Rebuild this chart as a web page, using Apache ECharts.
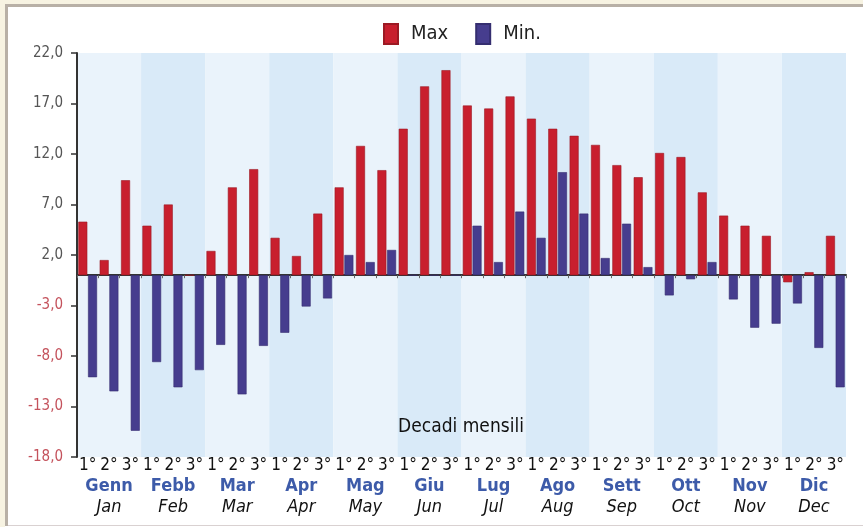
<!DOCTYPE html>
<html>
<head>
<meta charset="utf-8">
<script src="https://cdn.jsdelivr.net/npm/echarts@6/dist/echarts.min.js"></script>
<style>
  html, body { margin: 0; padding: 0; background: #ffffff; }
  body { width: 863px; height: 527px; position: relative; overflow: hidden; }
  .cream { position: absolute; background: #f7f3e2; }
  #creamLeft { left: 0; top: 0; width: 5px; height: 527px; }
  #creamTop { left: 0; top: 0; width: 863px; height: 4px; }
  #frameLeft { position: absolute; left: 5px; top: 4px; width: 3px; height: 522px; background: #b8b0a6; }
  #frameTop { position: absolute; left: 5px; top: 4px; width: 858px; height: 3px; background: #b8b0a6; }
  #frameBottom { position: absolute; left: 8px; top: 525px; width: 855px; height: 1px; background: #d9d1d1; }
  #chart { position: absolute; left: 0; top: 0; width: 863px; height: 527px; }
</style>
</head>
<body>
<div class="cream" id="creamLeft"></div>
<div class="cream" id="creamTop"></div>
<div id="frameLeft"></div>
<div id="frameTop"></div>
<div id="frameBottom"></div>
<div id="chart"></div>
<script>
// ======================
// DATI
// ======================
const monthsIt = ["Genn", "Febb", "Mar", "Apr", "Mag", "Giu", "Lug", "Ago", "Sett", "Ott", "Nov", "Dic"];
const monthsEn = ["Jan", "Feb", "Mar", "Apr", "May", "Jun", "Jul", "Aug", "Sep", "Oct", "Nov", "Dec"];
const decadeLabels = ["1°", "2°", "3°"];

// temperature massime per decade (°C)
const maxVals = [
    5.3, 1.5, 9.4,
    4.9, 7.0, 0.0,
    2.4, 8.7, 10.5,
    3.7, 1.9, 6.1,
    8.7, 12.8, 10.4,
    14.5, 18.7, 20.3,
    16.8, 16.5, 17.7,
    15.5, 14.5, 13.8,
    12.9, 10.9, 9.7,
    12.1, 11.7, 8.2,
    5.9, 4.9, 3.9,
    -0.7, 0.3, 3.9
];

// temperature minime per decade (°C)
const minVals = [
    -10.1, -11.5, -15.4,
    -8.6, -11.1, -9.4,
    -6.9, -11.8, -7.0,
    -5.7, -3.1, -2.3,
    2.0, 1.3, 2.5,
    0.0, 0.0, 0.0,
    4.9, 1.3, 6.3,
    3.7, 10.2, 6.1,
    1.7, 5.1, 0.8,
    -2.0, -0.4, 1.3,
    -2.4, -5.2, -4.8,
    -2.8, -7.2, -11.1
];

// ======================
// COLORI
// ======================
const COLORS = {
    red: "#c81f2e",
    blue: "#463d8e",
    monthIt: "#3d5ba9",
    bandA: "#eaf3fb",
    bandB: "#d9eaf8",
    axis: "#333333"
};

const FONT = "'Liberation Sans Narrow', 'DejaVu Sans Condensed', 'Roboto', sans-serif";

const decades = [];
monthsEn.forEach(m => decadeLabels.forEach(d => decades.push(d)));
const decadeKeys = decades.map((d, i) => i);

const chart = echarts.init(document.getElementById("chart"));
chart.setOption({
    backgroundColor: "transparent",
    textStyle: { fontFamily: FONT },
    animation: false,
    legend: {
        top: 18,
        left: 378,
        icon: "rect",
        itemWidth: 14,
        itemHeight: 20,
        itemGap: 27,
        textStyle: { fontSize: 20, color: "#222", fontFamily: FONT, padding: [0, 0, 0, 8] },
        data: ["Max", "Min."]
    },
    grid: { left: 77, right: 17, top: 53, bottom: 70 },
    graphic: [{
        type: "text",
        z: 100,
        x: 461,
        y: 427,
        style: {
            text: "Decadi mensili",
            fontSize: 19,
            fill: "#111",
            fontFamily: FONT,
            align: "center",
            verticalAlign: "middle"
        }
    }],
    xAxis: [{
        type: "category",
        data: decadeKeys,
        axisLine: { onZero: true, lineStyle: { color: COLORS.axis, width: 2 } },
        axisTick: { show: true, interval: 0, length: 3, lineStyle: { color: "#666" } },
        axisLabel: { show: false },
        splitArea: { show: true, interval: 2, areaStyle: { color: [COLORS.bandA, COLORS.bandB] } }
    }, {
        type: "category",
        position: "bottom",
        data: decades,
        axisLine: { show: false, onZero: false },
        axisTick: { show: false },
        axisLabel: { interval: 0, margin: 1, fontSize: 17, color: "#111", lineHeight: 16, fontFamily: FONT }
    }, {
        type: "category",
        position: "bottom",
        offset: 19,
        data: monthsIt.map((m, i) => m + "|" + monthsEn[i]),
        axisLine: { show: false, onZero: false },
        axisTick: { show: false },
        axisLabel: {
            interval: 0,
            margin: 0,
            formatter: v => {
                const p = v.split("|");
                return "{it|" + p[0] + "}\n{en|" + p[1] + "}";
            },
            rich: {
                it: { fontSize: 18, fontWeight: "bold", color: COLORS.monthIt, lineHeight: 21, fontFamily: FONT },
                en: { fontSize: 18, fontStyle: "italic", color: "#111", lineHeight: 21, fontFamily: FONT }
            }
        }
    }],
    yAxis: {
        type: "value",
        min: -18,
        max: 22,
        interval: 5,
        axisLine: { show: true, lineStyle: { color: COLORS.axis, width: 2 } },
        axisTick: { show: true, length: 6, lineStyle: { color: COLORS.axis, width: 1.5 } },
        splitLine: { show: false },
        axisLabel: {
            margin: 14,
            fontSize: 15,
            fontFamily: FONT,
            formatter: v => v.toFixed(1).replace(".", ","),
            color: v => (Number(v) < 0 ? "#c4525c" : "#555555")
        }
    },
    series: [{
        name: "Max",
        type: "bar",
        xAxisIndex: 0,
        data: maxVals,
        barWidth: 9,
        barGap: "8%",
        itemStyle: { color: COLORS.red, borderColor: "#9c1a24", borderWidth: 0.6 }
    }, {
        name: "Min.",
        type: "bar",
        xAxisIndex: 0,
        data: minVals,
        barWidth: 9,
        barGap: "8%",
        itemStyle: { color: COLORS.blue, borderColor: "#352e70", borderWidth: 0.6 }
    }]
});

window.addEventListener("resize", () => chart.resize());
</script>
</body>
</html>
